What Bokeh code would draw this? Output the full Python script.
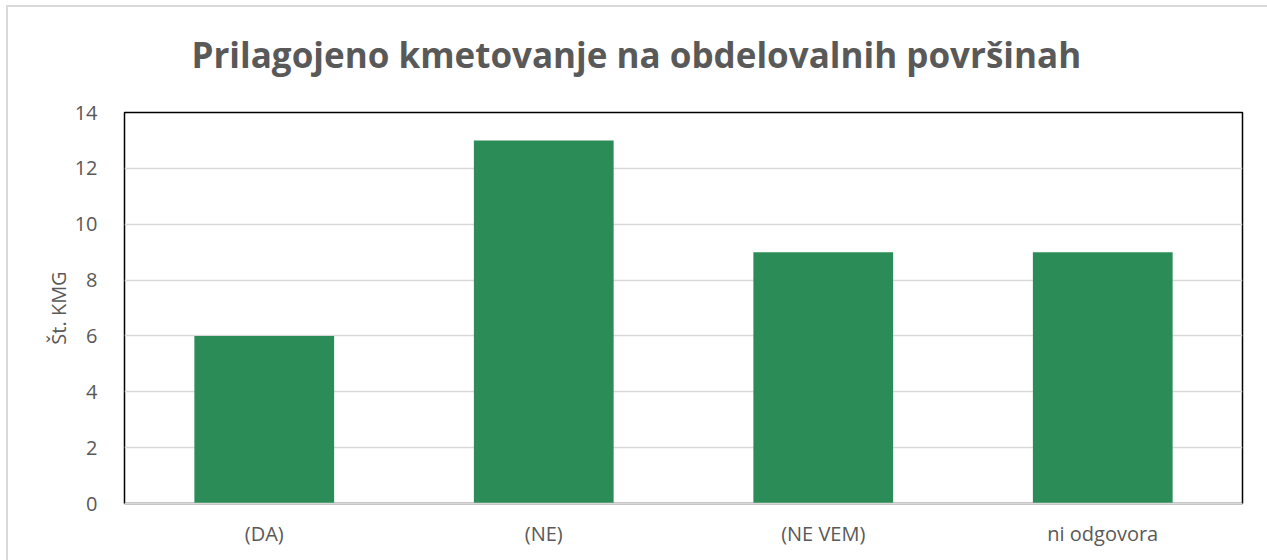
from bokeh.plotting import figure
from bokeh.models import FactorRange, Range1d, SingleIntervalTicker, Title
from bokeh.embed import file_html
from bokeh.resources import INLINE

categories = ["(DA)", "(NE)", "(NE VEM)", "ni odgovora"]
values = [6, 13, 9, 9]
title_text = "Prilagojeno kmetovanje na obdelovalnih površinah"
y_label = "Št. KMG"

p = figure(width=1261, height=555, output_backend="svg", toolbar_location=None,
           x_range=FactorRange(*categories, range_padding=0),
           y_range=Range1d(0, 14),
           min_border_left=116, min_border_right=27, min_border_top=0, min_border_bottom=59)
p.margin = (5, 0, 0, 6)
p.styles = {"border-top": "2px solid #d9d9d9", "border-left": "2px solid #d9d9d9",
            "box-sizing": "border-box"}

p.vbar(x=categories, top=values, width=0.5, fill_color="#2B8C57", line_color=None)

# small spacer between the title and the plot frame
p.add_layout(Title(text=" ", text_font_size="5px", standoff=6), "above")

p.title.text = title_text
p.title.align = "left"
p.title.offset = 67
p.title.text_font = "Open Sans"
p.title.text_font_size = "35px"
p.title.text_font_style = "bold"
p.title.text_color = "#595959"
p.title.standoff = 42

p.outline_line_color = "black"
p.outline_line_width = 1.5

p.xgrid.grid_line_color = None
p.ygrid.grid_line_color = "#d9d9d9"
p.ygrid.grid_line_width = 1.5

p.yaxis.ticker = SingleIntervalTicker(interval=2)
for ax in (p.xaxis[0], p.yaxis[0]):
    ax.major_tick_line_color = None
    ax.minor_tick_line_color = None
    ax.major_label_text_font = "Open Sans"
    ax.major_label_text_font_size = "20px"
    ax.major_label_text_color = "#595959"
    ax.axis_label_text_font = "Open Sans"
    ax.axis_label_text_font_size = "20px"
    ax.axis_label_text_color = "#595959"
    ax.axis_label_text_font_style = "normal"

p.yaxis.axis_line_color = None
p.xaxis.axis_line_color = "#d9d9d9"
p.xaxis.axis_line_width = 1.5
p.yaxis.major_label_standoff = 21
p.xaxis.major_label_standoff = 10
p.yaxis.axis_label = y_label
p.yaxis.axis_label_standoff = 0

open("out.html", "w").write(file_html(p, INLINE))
